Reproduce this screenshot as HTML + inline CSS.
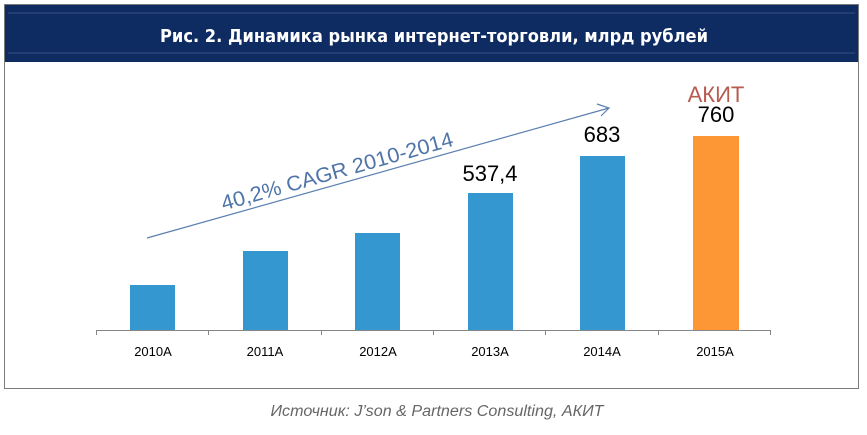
<!DOCTYPE html>
<html><head><meta charset="utf-8"><style>
body{margin:0;width:867px;height:430px;background:#fff;overflow:hidden;font-family:"Liberation Sans","DejaVu Sans",sans-serif}
</style></head><body>
<svg width="867" height="430" xmlns="http://www.w3.org/2000/svg">
<rect x="4.5" y="4.5" width="854" height="384" fill="#fff" stroke="#7a7a7a" stroke-width="1"/>
<rect x="5" y="5" width="853" height="57" fill="#0e2b62"/>
<line x1="8" y1="13" x2="855" y2="13" stroke="#3a4f80" stroke-width="1"/>
<line x1="8" y1="53" x2="855" y2="53" stroke="#3a4f80" stroke-width="1"/>
<text x="434" y="42" text-anchor="middle" fill="#fff" font-family="DejaVu Sans Condensed, DejaVu Sans, sans-serif" font-weight="bold" font-size="18" textLength="548" lengthAdjust="spacingAndGlyphs">Рис. 2. Динамика рынка интернет-торговли, млрд рублей</text>
<g fill="#3497cf">
<rect x="130" y="285" width="45" height="45"/>
<rect x="243" y="251" width="45" height="79"/>
<rect x="355" y="233" width="45" height="97"/>
<rect x="468" y="193" width="45" height="137"/>
<rect x="580" y="156" width="45" height="174"/>
</g>
<rect x="693" y="136" width="46" height="194" fill="#fd9735"/>
<g stroke="#868686" stroke-width="1">
<line x1="96" y1="330.5" x2="771" y2="330.5"/>
<line x1="96.5" y1="330" x2="96.5" y2="335"/>
<line x1="208.5" y1="330" x2="208.5" y2="335"/>
<line x1="321.5" y1="330" x2="321.5" y2="335"/>
<line x1="433.5" y1="330" x2="433.5" y2="335"/>
<line x1="545.5" y1="330" x2="545.5" y2="335"/>
<line x1="658.5" y1="330" x2="658.5" y2="335"/>
<line x1="770.5" y1="330" x2="770.5" y2="335"/>
</g>
<g font-size="13" fill="#000" text-anchor="middle">
<text x="153" y="356">2010A</text><text x="265" y="356">2011A</text><text x="378" y="356">2012A</text>
<text x="490" y="356">2013A</text><text x="602" y="356">2014A</text><text x="715" y="356">2015A</text>
</g>
<g font-size="22" fill="#000" text-anchor="middle">
<text x="490" y="181">537,4</text><text x="602" y="142">683</text><text x="716" y="122">760</text>
</g>
<text x="716" y="102" font-size="22" fill="#b85c50" text-anchor="middle">АКИТ</text>
<line x1="147" y1="238" x2="609" y2="108" stroke="#5b7fb0" stroke-width="1.2"/>
<polyline points="597,104 609,108 601,116" fill="none" stroke="#5b7fb0" stroke-width="1.2"/>
<text x="339" y="178" font-size="21" fill="#4f74a8" text-anchor="middle" transform="rotate(-15.7 339 178)" textLength="240" lengthAdjust="spacingAndGlyphs">40,2% CAGR 2010-2014</text>
<text x="437" y="416" font-size="15.5" font-style="italic" fill="#666" text-anchor="middle" textLength="333" lengthAdjust="spacingAndGlyphs">Источник: J’son &amp; Partners Consulting, АКИТ</text>
</svg>
</body></html>
